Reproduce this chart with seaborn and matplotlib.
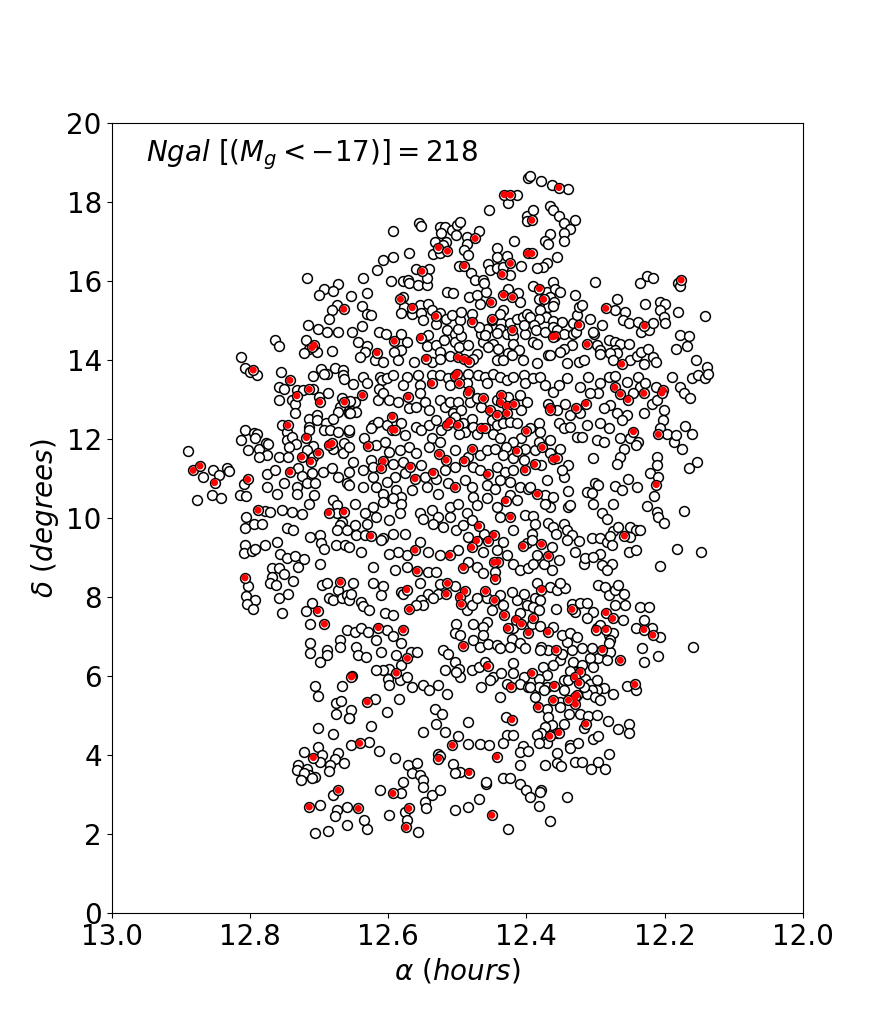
import matplotlib
matplotlib.use('Agg')
import matplotlib.pyplot as plt
import seaborn as sns
import numpy as np
import pandas as pd

# galaxy positions (alpha in hours, delta in degrees)
faint_west = [
    (12.717,16.07),(12.693,15.81),(12.672,15.92),(12.700,15.65),(12.679,15.755),(12.674,15.39),(12.681,15.27),
    (12.686,15.03),(12.716,14.89),(12.702,14.80),(12.688,14.72),(12.672,14.72),(12.763,14.51),(12.758,14.37),
    (12.718,14.51),(12.714,14.27),(12.703,14.21),(12.722,14.17),(12.681,14.23),(12.812,14.085),(12.807,13.79),
    (12.800,13.70),(12.790,13.62),(12.755,13.70),(12.709,13.60),(12.697,13.77),(12.688,13.66),(12.677,13.79),
    (12.665,13.75),(12.693,13.65),(12.665,13.62),(12.663,13.51),(12.758,13.33),(12.751,13.26),(12.732,13.24),
    (12.723,13.24),(12.709,13.28),(12.739,13.00),(12.734,12.90),(12.757,13.00),(12.700,13.07),(12.687,13.16),
    (12.667,13.03),(12.657,12.94),(12.669,12.82),(12.672,12.69),(12.657,12.67),(12.734,12.67),(12.715,12.52),
    (12.703,12.61),(12.703,12.48),(12.690,12.41),(12.680,12.52),(12.753,12.35),(12.746,12.19),(12.715,12.31),
    (12.714,12.24),(12.693,12.23),(12.684,12.23),(12.673,12.19),(12.656,12.19),(12.807,12.23),(12.794,12.16),
    (12.789,12.12),(12.812,11.975),(12.792,12.02),(12.802,11.72),(12.787,11.74),(12.776,11.91),(12.773,11.87),
    (12.746,11.99),(12.739,12.06),(12.733,11.87),(12.743,11.79),(12.708,11.82),(12.717,11.72),(12.679,11.74),
    (12.664,11.89),(12.665,11.64),(12.758,11.55),(12.744,11.55),(12.708,11.55),(12.890,11.70),(12.775,11.60),
    (12.787,11.55),
    (12.867,11.05),(12.853,11.23),(12.845,11.10),(12.855,10.58),(12.841,10.50),(12.876,10.45),(12.833,11.26),
    (12.830,11.20),(12.809,10.86),(12.814,10.58),(12.805,10.56),(12.775,11.11),(12.763,11.23),(12.751,10.88),
    (12.730,11.28),(12.725,11.06),(12.732,10.79),(12.731,10.62),(12.717,10.88),(12.775,10.79),(12.761,10.62),
    (12.710,11.13),(12.705,10.88),(12.707,10.58),(12.715,10.37),(12.694,11.17),(12.681,11.26),(12.672,11.03),
    (12.660,10.88),(12.657,11.17),(12.679,10.45),(12.674,10.33),(12.674,10.12),(12.667,9.91),(12.669,9.82),
    (12.674,9.70),(12.660,9.70),(12.778,10.18),(12.771,10.16),(12.754,10.20),(12.739,10.16),(12.805,10.02),
    (12.807,9.74),(12.794,9.86),(12.783,9.85),(12.725,10.10),(12.746,9.74),(12.737,9.71),(12.713,9.51),
    (12.698,9.57),(12.697,9.38),(12.693,9.21),(12.675,9.32),(12.662,9.32),(12.807,9.32),(12.809,9.11),
    (12.797,9.17),(12.792,9.21),(12.778,9.32),(12.761,9.40),(12.756,9.09),(12.746,8.98),(12.734,9.04),
    (12.721,8.97),(12.730,8.77),(12.699,8.83),(12.768,8.73),(12.758,8.73),(12.768,8.51),(12.771,8.35),
    (12.762,8.30),(12.751,8.58),(12.738,8.41),(12.802,8.28),(12.805,8.03),(12.792,7.92),(12.804,7.82),
    (12.796,7.70),(12.758,7.97),(12.745,8.09),(12.754,7.61),(12.710,7.84),(12.718,7.65),(12.713,7.33),
    (12.696,8.30),(12.688,8.36),(12.673,8.19),(12.686,7.99),(12.679,7.92),(12.667,7.99),(12.659,8.05),
    (12.656,7.94),(12.659,7.16),(12.669,6.91),(12.669,6.74),(12.688,6.66),(12.688,6.53),(12.713,6.83),
    (12.713,6.59),(12.698,6.36),
    (12.705,5.75),(12.667,5.75),(12.702,5.49),(12.675,5.33),(12.668,5.37),(12.675,5.04),(12.656,4.93),
    (12.702,4.68),(12.680,4.53),(12.653,4.25),(12.721,4.08),(12.701,4.20),(12.695,4.00),(12.673,4.06),
    (12.676,3.91),(12.663,3.79),(12.699,3.83),(12.684,3.75),(12.685,3.59),(12.730,3.75),(12.731,3.62),
    (12.717,3.66),(12.715,3.49),(12.705,3.45),(12.722,3.54),(12.726,3.37),(12.710,3.41),(12.680,2.99),
    (12.698,2.73),(12.674,2.61),(12.659,2.69),(12.676,2.46),(12.660,2.23),(12.687,2.08),(12.705,2.03),
]
bright_west = [
    (12.664,15.29),(12.707,14.38),(12.710,14.32),(12.795,13.75),(12.742,13.49),(12.714,13.26),(12.732,13.10),
    (12.699,12.94),(12.663,12.94),(12.745,12.35),(12.718,12.04),(12.701,11.65),(12.686,11.85),(12.681,11.89),
    (12.725,11.55),(12.882,11.21),(12.872,11.32),(12.851,10.90),(12.803,10.98),(12.742,11.17),(12.712,11.43),
    (12.686,10.14),(12.664,10.16),(12.788,10.20),(12.807,8.49),(12.702,7.66),(12.692,7.32),(12.669,8.38),
    (12.708,3.94),(12.672,3.11),(12.714,2.69),
]

faint_north = [
    (12.427,17.97),(12.454,17.81),(12.399,17.645),(12.399,17.53),(12.555,17.48),(12.552,17.39),(12.593,17.27),
    (12.570,16.70),(12.607,16.53),(12.593,16.60),(12.616,16.28),(12.636,16.07),(12.630,15.71),(12.653,15.62),
    (12.637,15.37),(12.631,15.16),(12.624,15.14),(12.637,14.86),(12.652,14.72),(12.643,14.46),(12.631,14.35),
    (12.634,14.21),(12.641,14.07),(12.619,14.00),(12.607,13.96),(12.613,14.72),(12.603,14.67),(12.581,14.66),
    (12.573,14.46),(12.581,14.25),(12.592,14.21),(12.585,14.00),(12.595,16.01),(12.579,16.01),(12.571,16.03),
    (12.569,15.96),(12.556,15.90),(12.544,15.90),(12.560,16.30),(12.540,16.30),(12.543,16.09),(12.578,15.60),
    (12.577,15.35),(12.554,15.39),(12.542,15.42),(12.537,15.28),(12.581,15.20),(12.566,15.18),(12.552,15.20),
    (12.549,15.01),(12.525,15.20),(12.516,15.03),(12.508,15.14),(12.496,15.01),(12.530,14.91),(12.515,14.76),
    (12.503,14.67),(12.542,14.63),(12.544,14.35),(12.530,14.38),(12.525,14.21),(12.563,13.96),(12.537,13.96),
    (12.525,14.02),(12.511,14.10),(12.519,14.51),(12.503,14.46),(12.494,14.61),(12.497,14.34),(12.484,14.38),
    (12.472,14.15),(12.477,14.02),(12.462,14.46),(12.465,14.67),(12.457,14.80),(12.450,15.01),(12.436,14.93),
    (12.424,14.93),(12.414,15.03),(12.405,15.08),(12.438,14.80),(12.443,14.69),(12.428,14.67),(12.419,14.61),
    (12.402,14.67),(12.404,14.89),(12.419,14.42),(12.448,14.42),(12.455,14.34),(12.441,14.29),(12.426,14.17),
    (12.410,14.25),(12.405,14.00),(12.443,14.00),(12.433,14.00),(12.421,14.13),(12.525,17.38),(12.518,17.38),
    (12.507,17.29),(12.500,17.42),(12.496,17.50),(12.523,17.21),(12.516,17.00),(12.532,17.00),(12.520,16.91),
    (12.535,16.68),(12.525,16.70),(12.501,17.16),(12.486,17.11),(12.468,17.27),(12.486,16.94),(12.490,16.78),
    (12.484,16.66),(12.498,16.38),(12.480,16.21),(12.474,16.04),(12.462,16.03),(12.455,16.43),(12.453,16.28),
    (12.443,16.32),(12.442,16.83),(12.443,16.62),(12.428,16.63),(12.418,17.02),(12.434,16.36),(12.424,16.15),
    (12.407,16.38),(12.515,15.73),(12.506,15.69),(12.483,15.59),(12.472,15.65),(12.458,15.73),(12.461,15.94),
    (12.467,15.43),(12.426,15.81),(12.412,15.69),(12.433,15.27),(12.438,15.16),(12.468,14.84),(12.460,14.63),
    (12.494,15.22),(12.479,15.16),(12.499,14.80),(12.409,15.48),(12.399,15.18),(12.413,18.19),
    (12.397,18.62),(12.394,18.67),(12.379,18.54),(12.363,18.43),(12.340,18.32),(12.391,17.81),(12.365,17.90),
    (12.361,17.80),(12.352,17.65),(12.346,17.48),(12.329,17.56),(12.337,17.33),(12.346,17.22),(12.366,17.19),
    (12.346,17.02),(12.373,17.02),(12.368,16.95),(12.355,16.60),(12.370,16.45),(12.376,16.36),(12.384,16.32),
    (12.390,15.87),(12.370,15.73),(12.361,15.98),(12.358,15.81),(12.351,15.73),(12.382,15.56),(12.365,15.60),
    (12.360,15.48),(12.368,15.35),(12.362,15.37),(12.380,15.27),(12.371,15.10),(12.381,15.03),(12.395,15.10),
    (12.389,14.89),(12.386,14.76),(12.390,14.46),(12.385,14.42),(12.373,14.72),(12.361,14.99),(12.349,14.97),
    (12.361,14.84),(12.355,14.76),(12.345,14.66),(12.332,14.67),(12.332,14.93),(12.326,15.14),(12.324,15.35),
    (12.320,15.39),(12.329,15.65),(12.328,14.72),(12.334,14.38),(12.308,15.05),(12.302,14.67),(12.291,14.89),
    (12.300,15.97),(12.271,15.27),(12.269,15.54),(12.257,15.22),(12.260,15.01),(12.252,14.94),(12.239,14.97),
    (12.234,14.72),(12.223,14.76),(12.216,14.93),(12.228,15.43),(12.236,15.96),(12.226,16.13),(12.217,16.07),
    (12.206,15.48),(12.199,15.42),(12.207,15.27),(12.201,15.10),(12.200,14.93),(12.180,15.94),(12.178,15.87),
    (12.180,15.22),(12.142,15.11),(12.177,14.63),(12.165,14.61),(12.167,14.35),(12.184,14.27),(12.155,14.00),
    (12.139,13.83),(12.298,14.38),(12.281,14.51),(12.271,14.46),(12.264,14.42),(12.252,14.42),(12.271,14.25),
    (12.269,14.17),(12.279,14.17),(12.293,14.25),(12.294,14.15),(12.274,14.00),(12.250,14.00),(12.240,14.10),
    (12.234,14.21),(12.224,14.27),(12.230,13.90),(12.217,14.08),(12.213,13.96),(12.303,14.72),(12.324,13.96),
    (12.317,14.00),(12.341,13.92),(12.369,14.13),(12.366,14.13),(12.385,13.92),(12.346,14.29),(12.351,14.21),
]
bright_north = [
    (12.432,18.19),(12.423,18.18),(12.616,14.19),(12.591,14.48),(12.551,16.25),(12.582,15.54),(12.565,15.33),
    (12.531,15.11),(12.553,14.57),(12.545,14.04),(12.499,14.07),(12.490,14.02),(12.483,13.96),(12.449,15.03),
    (12.420,14.76),(12.527,16.85),(12.514,16.76),(12.474,17.08),(12.490,16.39),(12.423,16.45),(12.435,16.17),
    (12.398,16.70),(12.451,15.46),(12.433,15.65),(12.420,15.59),(12.478,14.97),
    (12.353,18.37),(12.392,17.54),(12.392,16.70),(12.381,15.81),(12.375,15.54),(12.358,14.61),(12.362,14.59),
    (12.324,14.89),(12.312,14.40),(12.285,15.31),(12.229,14.87),(12.176,16.03),(12.262,13.90),
]

faint_centre = [
    (12.651,13.39),(12.636,13.58),(12.631,13.41),(12.612,13.58),(12.608,13.49),(12.602,13.54),(12.613,13.28),
    (12.593,13.62),(12.573,13.58),(12.578,13.37),(12.556,13.62),(12.554,13.37),(12.537,13.62),(12.525,13.62),
    (12.513,13.54),(12.511,13.37),(12.484,13.66),(12.486,13.41),(12.470,13.62),(12.460,13.58),(12.457,13.41),
    (12.448,13.66),(12.438,13.58),(12.428,13.49),(12.419,13.58),(12.404,13.62),(12.402,13.41),(12.648,12.95),
    (12.655,12.97),(12.647,12.69),(12.655,12.65),(12.614,12.99),(12.607,13.16),(12.598,12.99),(12.585,12.95),
    (12.569,12.78),(12.559,12.82),(12.554,13.16),(12.547,12.95),(12.540,12.73),(12.525,12.99),(12.518,12.82),
    (12.511,12.95),(12.499,12.95),(12.506,12.65),(12.494,12.73),(12.482,12.95),(12.472,13.03),(12.465,12.82),
    (12.443,12.99),(12.426,13.07),(12.409,13.11),(12.399,12.95),(12.407,12.73),(12.622,12.35),(12.614,12.44),
    (12.624,12.27),(12.602,12.35),(12.581,12.40),(12.576,12.10),(12.559,12.31),(12.552,12.24),(12.540,12.35),
    (12.530,12.48),(12.523,12.23),(12.537,12.02),(12.541,11.81),(12.525,11.93),(12.503,12.57),(12.491,12.40),
    (12.489,12.19),(12.498,12.14),(12.479,12.52),(12.477,12.31),(12.472,12.14),(12.450,12.48),(12.443,12.35),
    (12.448,12.14),(12.433,12.40),(12.424,12.44),(12.414,12.40),(12.407,12.02),(12.419,11.93),(12.429,11.81),
    (12.438,12.02),(12.402,11.76),(12.656,12.23),(12.656,11.81),(12.635,12.02),(12.618,11.85),(12.605,11.93),
    (12.598,11.68),(12.583,11.72),(12.569,11.81),(12.559,11.64),(12.503,11.72),(12.484,11.55),(12.467,11.60),
    (12.457,11.72),(12.445,11.76),(12.433,11.60),(12.419,11.51),(12.404,11.47),(12.624,11.47),(12.622,11.30),
    (12.651,11.43),(12.636,11.22),(12.593,11.38),(12.578,11.43),(12.552,11.34),(12.547,11.05),(12.576,11.13),
    (12.590,11.05),(12.602,10.92),(12.622,11.05),(12.636,10.79),(12.656,10.84),(12.617,10.79),(12.607,10.62),
    (12.588,10.71),(12.581,10.54),(12.566,10.71),(12.544,10.79),(12.530,11.00),(12.527,10.62),(12.513,10.88),
    (12.518,11.22),(12.503,11.30),(12.477,11.30),(12.467,11.22),(12.443,11.30),(12.431,11.17),(12.419,11.22),
    (12.438,10.96),(12.424,10.92),(12.409,10.79),(12.397,10.75),(12.489,10.96),(12.479,10.79),(12.457,10.84),
    (12.445,10.75),(12.477,10.54),(12.472,10.33),(12.457,10.50),(12.443,10.29),(12.424,10.58),(12.414,10.46),
    (12.402,10.08),(12.438,10.03),(12.648,10.37),(12.634,10.12),(12.622,10.29),(12.607,10.41),(12.593,10.50),
    (12.581,10.37),(12.583,10.12),(12.598,9.95),(12.617,10.03),(12.631,9.86),(12.648,9.82),(12.646,9.57),
    (12.634,9.57),(12.607,9.49),(12.593,9.61),(12.576,9.61),(12.554,10.12),(12.549,9.99),(12.537,10.20),
    (12.527,10.03),(12.511,10.29),(12.511,10.03),(12.499,10.37),(12.486,10.12),(12.535,9.86),(12.520,9.78),
    (12.501,9.70),(12.491,9.82),(12.479,9.95),(12.461,9.61),(12.484,9.53),(12.433,9.40),(12.419,9.70),
    (12.399,9.36),(12.443,9.19),(12.462,9.15),(12.428,9.06),(12.419,8.85),(12.409,8.68),(12.397,8.73),
    (12.445,8.64),(12.472,8.77),(12.484,8.89),(12.499,9.19),(12.525,9.06),(12.542,9.15),(12.554,9.40),
    (12.573,9.06),(12.585,9.15),(12.598,9.10),(12.610,9.44),(12.639,9.15),(12.656,9.27),(12.622,8.77),
    (12.542,8.64),(12.530,8.64),(12.573,8.77),(12.590,8.68),(12.462,8.60),
]
bright_centre = [
    (12.537,13.41),(12.503,13.59),(12.500,13.66),(12.497,13.41),(12.483,13.22),(12.484,13.17),(12.637,13.11),
    (12.571,13.07),(12.462,13.03),(12.453,12.73),(12.436,13.11),(12.437,12.93),(12.428,12.84),(12.418,12.88),
    (12.442,12.61),(12.428,12.65),(12.594,12.57),(12.594,12.24),(12.590,12.23),(12.515,12.35),(12.511,12.44),
    (12.499,12.35),(12.465,12.27),(12.460,12.27),(12.400,12.20),(12.414,11.70),(12.629,11.82),(12.526,11.62),
    (12.516,11.47),(12.490,11.45),(12.478,11.74),(12.402,11.22),(12.607,11.44),(12.610,11.26),(12.568,11.30),
    (12.535,11.15),(12.561,11.00),(12.503,10.78),(12.456,11.11),(12.430,10.44),(12.423,10.03),(12.625,9.55),
    (12.469,9.80),(12.447,9.57),(12.455,9.43),(12.472,9.43),(12.479,9.26),(12.405,9.29),(12.441,8.89),
    (12.447,8.88),(12.491,8.75),(12.511,9.06),(12.561,9.19),(12.558,8.66),(12.445,8.47),
]

faint_east = [
    (12.390,13.54),(12.380,13.58),(12.373,13.37),(12.361,13.20),(12.353,13.37),(12.341,13.54),(12.323,13.33),
    (12.310,13.58),(12.293,13.41),(12.296,13.16),(12.308,13.16),(12.281,13.58),(12.271,13.60),(12.254,13.45),
    (12.238,13.58),(12.236,13.33),(12.245,13.16),(12.228,13.41),(12.213,13.33),(12.218,12.90),(12.201,12.73),
    (12.211,12.99),(12.189,13.58),(12.177,13.33),(12.172,13.16),(12.163,13.03),(12.160,13.54),(12.151,13.62),
    (12.141,13.54),(12.137,13.64),(12.369,12.90),(12.356,12.73),(12.344,12.90),(12.323,12.65),(12.337,12.61),
    (12.279,12.86),(12.269,12.65),(12.254,12.61),(12.262,12.48),(12.288,12.78),(12.229,12.67),(12.382,12.40),
    (12.380,12.19),(12.395,12.27),(12.353,12.40),(12.346,12.27),(12.337,12.31),(12.327,12.06),(12.320,12.06),
    (12.312,12.35),(12.293,12.40),(12.281,12.27),(12.298,11.97),(12.288,11.93),(12.264,12.02),(12.250,12.02),
    (12.238,11.93),(12.242,11.85),(12.259,11.76),(12.264,11.54),(12.269,11.37),(12.202,12.48),(12.206,12.27),
    (12.196,12.13),(12.187,11.93),(12.183,12.10),(12.170,12.33),(12.160,12.13),(12.175,11.74),(12.153,11.43),
    (12.164,11.26),(12.211,11.55),(12.211,11.34),(12.221,11.13),(12.209,11.05),(12.215,10.56),(12.253,10.98),
    (12.240,10.78),(12.272,10.81),(12.262,10.71),(12.303,11.51),(12.300,10.88),(12.296,10.84),(12.312,10.67),
    (12.305,10.64),(12.339,10.69),(12.387,11.72),(12.382,11.93),(12.366,11.97),(12.351,11.76),(12.365,11.64),
    (12.378,11.34),(12.340,11.34),(12.346,11.05),(12.349,11.22),(12.370,10.96),(12.395,10.78),(12.373,10.58),
    (12.361,10.54),(12.366,10.29),(12.373,10.37),(12.339,10.29),(12.337,10.33),(12.303,10.35),(12.291,10.14),
    (12.283,9.99),(12.274,10.35),(12.225,10.30),(12.211,10.16),(12.209,10.03),(12.201,9.88),(12.172,10.18),
    (12.391,10.05),(12.387,9.86),(12.368,9.88),(12.361,9.78),(12.346,9.86),(12.341,9.70),(12.334,9.57),
    (12.324,9.43),(12.341,9.44),(12.357,9.61),(12.392,9.61),(12.392,9.44),(12.385,9.06),(12.363,9.27),
    (12.353,8.94),(12.375,8.85),(12.390,8.85),(12.363,8.68),(12.329,9.15),(12.317,8.85),(12.315,8.98),
    (12.305,9.49),(12.293,9.49),(12.283,9.40),(12.274,9.68),(12.267,9.78),(12.250,9.78),(12.242,9.70),
    (12.235,9.70),(12.250,9.53),(12.279,9.55),(12.276,9.32),(12.252,9.15),(12.242,9.19),(12.293,9.10),
    (12.303,9.02),(12.291,8.81),(12.276,8.85),(12.283,8.68),(12.206,8.79),(12.182,9.21),(12.147,9.15),
]
bright_east = [
    (12.272,13.31),(12.264,13.14),(12.253,13.00),(12.230,13.16),(12.202,13.24),(12.204,13.17),(12.366,12.78),
    (12.365,12.73),(12.328,12.78),(12.314,12.90),(12.245,12.19),(12.209,12.12),(12.212,10.85),(12.388,11.36),
    (12.377,11.79),(12.361,11.49),(12.356,11.51),(12.384,10.61),(12.378,9.34),(12.368,9.04),(12.258,9.55),
]

faint_south = [
    (12.651,8.36),(12.622,8.35),(12.607,8.28),(12.581,8.13),(12.554,8.36),(12.525,8.33),(12.503,8.28),
    (12.527,8.08),(12.542,8.09),(12.535,7.97),(12.552,7.92),(12.549,7.80),(12.559,7.80),(12.578,8.09),
    (12.610,8.05),(12.653,8.09),(12.639,7.88),(12.636,7.77),(12.627,7.67),(12.605,7.59),(12.593,7.54),
    (12.486,7.67),(12.479,7.80),(12.472,7.97),(12.457,7.97),(12.438,8.05),(12.433,7.80),(12.419,7.21),
    (12.409,7.59),(12.399,7.80),(12.414,7.92),(12.421,8.13),(12.404,8.09),(12.450,7.67),(12.457,7.38),
    (12.462,7.25),(12.477,7.33),(12.501,7.33),(12.503,7.10),(12.496,7.04),(12.477,6.91),(12.462,7.04),
    (12.467,6.74),(12.455,6.81),(12.443,6.78),(12.438,6.70),(12.421,6.93),(12.409,6.83),(12.402,6.70),
    (12.424,6.74),(12.648,7.12),(12.639,7.21),(12.629,7.12),(12.601,7.17),(12.593,7.01),(12.617,6.91),
    (12.581,6.84),(12.647,6.74),(12.643,6.53),(12.632,6.49),(12.610,6.62),(12.589,6.53),(12.567,6.62),
    (12.558,6.62),(12.581,6.28),(12.598,6.19),(12.607,6.15),(12.618,6.15),(12.600,5.94),(12.599,5.77),
    (12.583,5.90),(12.573,5.98),(12.566,5.73),(12.549,5.77),(12.540,5.65),(12.527,5.77),(12.515,5.56),
    (12.518,6.15),(12.521,6.66),(12.513,6.57),(12.503,6.36),(12.498,6.19),(12.496,5.98),(12.502,6.11),
    (12.479,6.15),(12.469,6.22),(12.459,6.36),(12.448,5.98),(12.453,5.90),(12.436,6.07),(12.419,6.32),
    (12.419,6.07),(12.428,5.81),(12.465,5.73),(12.438,5.48),(12.404,5.98),(12.409,5.81),(12.398,5.73),
    (12.653,5.14),(12.656,4.95),(12.619,5.42),(12.584,5.43),(12.602,5.10),(12.624,4.73),(12.549,4.59),
    (12.532,5.18),(12.522,5.05),(12.530,4.79),(12.518,4.59),(12.499,4.48),(12.484,4.84),(12.429,4.97),
    (12.428,4.51),(12.419,4.51),(12.405,4.23),(12.409,4.08),(12.397,4.11),(12.409,3.75),(12.433,4.30),
    (12.484,4.28),(12.467,4.28),(12.454,4.25),(12.527,4.02),(12.525,3.97),(12.506,3.77),(12.496,3.58),
    (12.503,3.55),(12.627,4.34),(12.613,4.11),(12.590,3.94),(12.571,3.75),(12.558,3.81),(12.566,3.54),
    (12.554,3.49),(12.578,3.32),(12.611,3.11),(12.581,3.03),(12.549,3.37),(12.549,3.20),(12.537,2.99),
    (12.525,3.13),(12.547,2.82),(12.545,2.65),(12.576,2.56),(12.573,2.35),(12.556,2.06),(12.598,2.48),
    (12.631,2.14),(12.635,2.35),(12.503,2.62),(12.484,2.69),(12.468,2.90),(12.458,3.27),(12.458,3.33),
    (12.433,3.41),(12.424,3.43),(12.409,3.28),(12.400,3.11),(12.427,2.14),
    (12.385,8.35),(12.366,8.26),(12.356,8.19),(12.344,8.22),(12.351,8.36),(12.387,7.97),(12.380,7.92),
    (12.390,7.75),(12.382,7.67),(12.392,7.33),(12.380,7.27),(12.361,7.25),(12.357,7.71),(12.334,7.82),
    (12.323,7.84),(12.312,7.84),(12.329,7.63),(12.303,7.63),(12.312,7.46),(12.296,8.30),(12.286,8.26),
    (12.281,8.05),(12.271,8.18),(12.267,8.30),(12.259,8.09),(12.271,7.80),(12.257,7.80),(12.298,7.21),
    (12.294,7.29),(12.281,7.04),(12.274,7.08),(12.260,7.43),(12.279,6.91),(12.235,7.76),(12.223,7.76),
    (12.230,7.43),(12.242,7.23),(12.218,7.21),(12.206,6.98),(12.159,6.73),(12.233,6.70),(12.209,6.51),
    (12.229,6.36),(12.279,6.62),(12.281,6.83),(12.296,6.45),(12.308,6.45),(12.283,6.40),(12.305,6.70),
    (12.320,6.70),(12.334,6.66),(12.341,6.87),(12.349,7.04),(12.337,7.08),(12.327,7.00),(12.368,6.66),
    (12.378,6.74),(12.380,6.66),(12.351,6.40),(12.362,6.28),(12.376,6.22),(12.370,6.03),(12.382,5.94),
    (12.349,6.57),(12.332,6.36),(12.320,6.28),(12.303,6.22),(12.329,6.11),(12.337,6.13),(12.346,5.90),
    (12.339,5.90),(12.315,5.94),(12.308,5.81),(12.298,5.90),(12.288,5.69),(12.298,5.65),(12.305,5.65),
    (12.312,5.56),(12.300,5.48),(12.293,5.39),(12.317,5.73),(12.370,5.73),(12.382,5.73),(12.395,5.73),
    (12.375,5.65),(12.387,5.48),(12.351,5.35),(12.346,5.65),(12.370,5.18),(12.351,5.22),(12.338,5.03),
    (12.322,5.05),(12.310,4.99),(12.297,5.01),(12.317,4.68),(12.282,4.87),(12.267,4.65),(12.251,4.79),
    (12.252,4.56),(12.274,5.56),(12.254,5.75),(12.241,5.66),(12.368,4.97),(12.363,4.76),(12.373,4.72),
    (12.346,4.80),(12.356,4.55),(12.378,4.55),(12.385,4.51),(12.370,4.30),(12.382,4.30),(12.337,4.25),
    (12.337,4.17),(12.325,4.31),(12.304,4.42),(12.296,4.48),(12.281,4.04),(12.355,4.06),(12.373,3.75),
    (12.356,3.79),(12.350,3.72),(12.329,3.83),(12.320,3.83),(12.296,3.83),(12.307,3.66),(12.286,3.66),
    (12.379,3.13),(12.380,3.07),(12.395,2.94),(12.382,2.71),(12.341,2.94),(12.366,2.34),
]
bright_south = [
    (12.652,6.00),(12.573,8.19),(12.514,8.35),(12.489,8.15),(12.496,8.01),(12.494,7.82),(12.516,8.08),
    (12.569,7.69),(12.459,8.15),(12.446,7.92),(12.432,7.54),(12.427,7.21),(12.415,7.43),(12.407,7.32),
    (12.397,7.10),(12.614,7.23),(12.578,7.17),(12.572,6.45),(12.588,6.08),(12.491,6.76),(12.456,6.25),
    (12.422,5.73),(12.653,5.98),(12.630,5.35),(12.421,4.90),(12.443,3.96),(12.507,4.25),(12.527,3.91),
    (12.483,3.56),(12.641,4.30),(12.593,3.03),(12.570,2.65),(12.574,2.17),(12.643,2.65),(12.450,2.48),
    (12.378,8.19),(12.390,7.46),(12.369,7.12),(12.334,7.69),(12.285,7.61),(12.275,7.46),(12.299,7.18),
    (12.285,7.18),(12.230,7.18),(12.217,7.04),(12.264,6.40),(12.290,6.67),(12.357,6.66),(12.392,6.07),
    (12.322,6.11),(12.330,5.98),(12.324,5.83),(12.327,5.52),(12.330,5.46),(12.329,5.29),(12.339,5.39),
    (12.360,5.76),(12.361,5.39),(12.383,5.22),(12.314,4.79),(12.243,5.79),(12.353,4.57),(12.366,4.48),
]

faint = faint_west + faint_north + faint_centre + faint_east + faint_south
bright = bright_west + bright_north + bright_centre + bright_east + bright_south
n_bright = 218

df_all = pd.DataFrame(faint + bright, columns=['alpha', 'delta'])
df_bright = pd.DataFrame(bright, columns=['alpha', 'delta'])

fig, ax = plt.subplots(figsize=(8.92, 10.26), dpi=100)

sns.scatterplot(data=df_all, x='alpha', y='delta', s=50, color='white',
                edgecolor='black', linewidth=1.1, ax=ax, zorder=2)
sns.scatterplot(data=df_bright, x='alpha', y='delta', s=26, color='red',
                edgecolor='none', linewidth=0, ax=ax, zorder=3)

ax.set_xlim(13.0, 12.0)
ax.set_ylim(0, 20)
ax.set_xticks(np.arange(13.0, 11.99, -0.2))
ax.set_yticks(np.arange(0, 21, 2))
ax.tick_params(labelsize=20)
ax.set_xlabel(r'$\alpha\ (hours)$', fontsize=20)
ax.set_ylabel(r'$\delta\ (degrees)$', fontsize=20)
ax.text(0.05, 0.96, r'$Ngal\ [(M_g < -17)] = %d$' % n_bright, transform=ax.transAxes,
        fontsize=20, va='center', ha='left')

plt.savefig('out.png', dpi=100)
